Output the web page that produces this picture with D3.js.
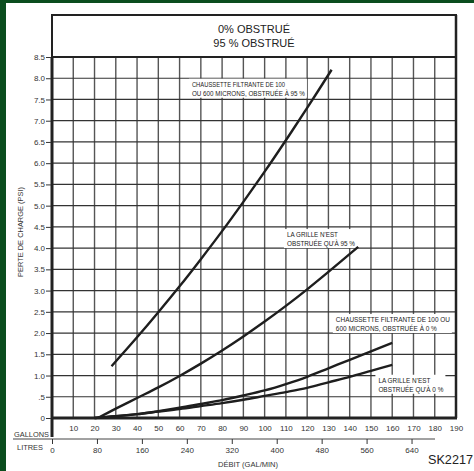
<!DOCTYPE html>
<html><head><meta charset="utf-8">
<script src="https://cdn.jsdelivr.net/npm/d3@7"></script>
<style>body{margin:0;background:#fff}svg{display:block;font-family:"Liberation Sans",Arial,sans-serif}</style>
</head><body>
<script>
const titleLines = ["0% OBSTRUÉ", "95 % OBSTRUÉ"];
const yTicks = [0, 0.5, 1, 1.5, 2, 2.5, 3, 3.5, 4, 4.5, 5, 5.5, 6, 6.5, 7, 7.5, 8, 8.5];
const gallonTicks = [10, 20, 30, 40, 50, 60, 70, 80, 90, 100, 110, 120, 130, 140, 150, 160, 170, 180, 190];
const litreTicks = [0, 80, 160, 240, 320, 400, 480, 560, 640];

// series: flow (gal/min) and pressure loss (psi)
const sock95Q = [28, 40, 50, 60, 70, 80, 90, 100, 110, 120, 131.5];
const sock95P = [1.22, 1.90, 2.49, 3.10, 3.74, 4.40, 5.09, 5.80, 6.54, 7.30, 8.2];
const grid95Q = [21.5, 30, 40, 50, 60, 70, 80, 90, 100, 110, 120, 130, 144];
const grid95P = [0, 0.22, 0.47, 0.72, 0.99, 1.28, 1.59, 1.92, 2.27, 2.64, 3.03, 3.44, 4.03];
const sock0Q = [20, 30, 40, 50, 60, 70, 80, 90, 100, 110, 120, 130, 140, 150, 160];
const sock0P = [0, 0.04, 0.09, 0.16, 0.24, 0.33, 0.42, 0.53, 0.65, 0.8, 0.97, 1.17, 1.37, 1.57, 1.77];
const grid0Q = [20, 30, 40, 50, 60, 70, 80, 90, 100, 110, 120, 130, 140, 150, 160];
const grid0P = [0, 0.04, 0.09, 0.15, 0.21, 0.28, 0.35, 0.43, 0.52, 0.61, 0.71, 0.84, 0.97, 1.11, 1.25];

const labelTexts = [
  ["CHAUSSETTE FILTRANTE DE 100", "OU 600 MICRONS, OBSTRUÉE À 95 %"],
  ["LA GRILLE N'EST", "OBSTRUÉE QU'À 95 %"],
  ["CHAUSSETTE FILTRANTE DE 100 OU", "600 MICRONS, OBSTRUÉE À 0 %"],
  ["LA GRILLE N'EST", "OBSTRUÉE QU'À 0 %"]
];
const labelAnchors = [[65.8, 7.8], [110.5, 4.26], [133.5, 2.26], [153.5, 0.83]];
const labelWidths = [[93, 113], [51, 68], [114, 101], [52, 65]];

const W = 474, H = 471;
const svg = d3.select("body").append("svg").attr("width", W).attr("height", H);
const x = d3.scaleLinear().domain([0, 190]).range([52, 456]);
const y = d3.scaleLinear().domain([0, 8.5]).range([418, 57]);
const xL = d3.scaleLinear().domain([0, 190 * 3.785]).range([52, 456]);

// green border
svg.append("rect").attr("x", 0).attr("y", 0).attr("width", 6).attr("height", H).attr("fill", "#0b4d1e");
svg.append("rect").attr("x", 0).attr("y", 0).attr("width", W).attr("height", 3).attr("fill", "#0b4d1e");

// grid
const g = svg.append("g");
g.selectAll(".vg").data(gallonTicks.filter(d => d < 190)).join("line")
  .attr("x1", d => x(d)).attr("x2", d => x(d)).attr("y1", y(8.5)).attr("y2", y(0))
  .attr("stroke", "#555").attr("stroke-width", 1.4);
g.selectAll(".hg").data(yTicks.filter(d => d > 0 && d < 8.5)).join("line")
  .attr("x1", x(0)).attr("x2", x(190)).attr("y1", d => y(d)).attr("y2", d => y(d))
  .attr("stroke", "#333").attr("stroke-width", 1.2);

// labels with white backgrounds
labelTexts.forEach((lines, i) => {
  const lx = x(labelAnchors[i][0]), ly = y(labelAnchors[i][1]);
  const lg = svg.append("g");
  const bg = lg.append("rect").attr("fill", "#fff");
  const t = lg.append("text").attr("font-size", 7).attr("fill", "#222");
  lines.forEach((s, j) => {
    t.append("tspan").attr("x", lx).attr("y", ly + j * 9).text(s)
      .attr("textLength", labelWidths[i][j]).attr("lengthAdjust", "spacingAndGlyphs");
  });
  const maxW = Math.max(...labelWidths[i]);
  bg.attr("x", lx - 3).attr("y", ly - 8).attr("width", maxW + 5).attr("height", 19);
});

// title box
svg.append("rect").attr("x", x(0)).attr("y", 15).attr("width", x(190) - x(0)).attr("height", y(8.5) - 15)
  .attr("fill", "none").attr("stroke", "#222").attr("stroke-width", 2);
svg.selectAll(".title").data(titleLines).join("text")
  .attr("x", (x(0) + x(190)) / 2).attr("y", (d, i) => 33 + i * 14)
  .attr("text-anchor", "middle").attr("font-size", 11).attr("fill", "#222").text(d => d);

// frame
svg.append("line").attr("x1", x(0)).attr("x2", x(0)).attr("y1", y(8.5)).attr("y2", 437).attr("stroke", "#222").attr("stroke-width", 3);
svg.append("line").attr("x1", x(190)).attr("x2", x(190)).attr("y1", 15).attr("y2", y(0)).attr("stroke", "#222").attr("stroke-width", 2.5);
svg.append("line").attr("x1", x(0)).attr("x2", x(190) + 1).attr("y1", y(0)).attr("y2", y(0)).attr("stroke", "#222").attr("stroke-width", 3);
svg.append("line").attr("x1", x(0)).attr("x2", x(190)).attr("y1", y(8.5)).attr("y2", y(8.5)).attr("stroke", "#222").attr("stroke-width", 2);

// y axis
const yAxis = d3.axisLeft(y).tickValues(yTicks).tickSize(5).tickPadding(1)
  .tickFormat(d => d === 0 ? "0" : d === 0.5 ? ".5" : d3.format(".1f")(d));
const ya = svg.append("g").attr("transform", `translate(${x(0) - 1},0)`).call(yAxis);
ya.select(".domain").remove();
ya.selectAll("text").attr("font-size", 8).attr("fill", "#333").attr("font-family", "Liberation Sans, Arial, sans-serif");
ya.selectAll("line").attr("stroke", "#333");

// gallon labels
const xa = svg.append("g").attr("transform", `translate(0,${y(0)})`)
  .call(d3.axisBottom(x).tickValues(gallonTicks).tickSize(0).tickPadding(7));
xa.select(".domain").remove();
xa.selectAll("text").attr("font-size", 8).attr("fill", "#333").attr("font-family", "Liberation Sans, Arial, sans-serif");

// litre axis
svg.append("line").attr("x1", 13).attr("x2", 435).attr("y1", 439).attr("y2", 439).attr("stroke", "#444").attr("stroke-width", 1);
const la = svg.append("g").attr("transform", "translate(0,439)")
  .call(d3.axisBottom(xL).tickValues(litreTicks).tickSize(5).tickPadding(3));
la.select(".domain").remove();
la.selectAll("text").attr("font-size", 8).attr("fill", "#333").attr("font-family", "Liberation Sans, Arial, sans-serif");
la.selectAll("line").attr("stroke", "#333");

svg.append("text").attr("x", 14).attr("y", 437).attr("font-size", 8).attr("fill", "#333")
  .attr("textLength", 35).attr("lengthAdjust", "spacingAndGlyphs").text("GALLONS");
svg.append("text").attr("x", 17).attr("y", 450).attr("font-size", 8).attr("fill", "#333")
  .attr("textLength", 26).attr("lengthAdjust", "spacingAndGlyphs").text("LITRES");
svg.append("text").attr("x", 248).attr("y", 467).attr("text-anchor", "middle").attr("font-size", 7.5).attr("fill", "#333")
  .attr("textLength", 60).attr("lengthAdjust", "spacingAndGlyphs").text("DÉBIT (GAL/MIN)");
svg.append("text").attr("transform", "translate(23,232) rotate(-90)").attr("text-anchor", "middle")
  .attr("font-size", 7.5).attr("fill", "#333").attr("textLength", 90).attr("lengthAdjust", "spacingAndGlyphs")
  .text("PERTE DE CHARGE (PSI)");
svg.append("text").attr("x", 428).attr("y", 464).attr("font-size", 13).attr("fill", "#222")
  .attr("textLength", 45).attr("lengthAdjust", "spacingAndGlyphs").text("SK2217");

// curves
const line = d3.line().x(d => x(d[0])).y(d => y(d[1])).curve(d3.curveCatmullRom.alpha(0.5));
[[sock95Q, sock95P], [grid95Q, grid95P], [sock0Q, sock0P], [grid0Q, grid0P]].forEach(([q, p]) => {
  svg.append("path").datum(q.map((v, i) => [v, p[i]])).attr("d", line)
    .attr("fill", "none").attr("stroke", "#1e1e1e").attr("stroke-width", 2.4).attr("stroke-linecap", "butt");
});
</script>
</body></html>
